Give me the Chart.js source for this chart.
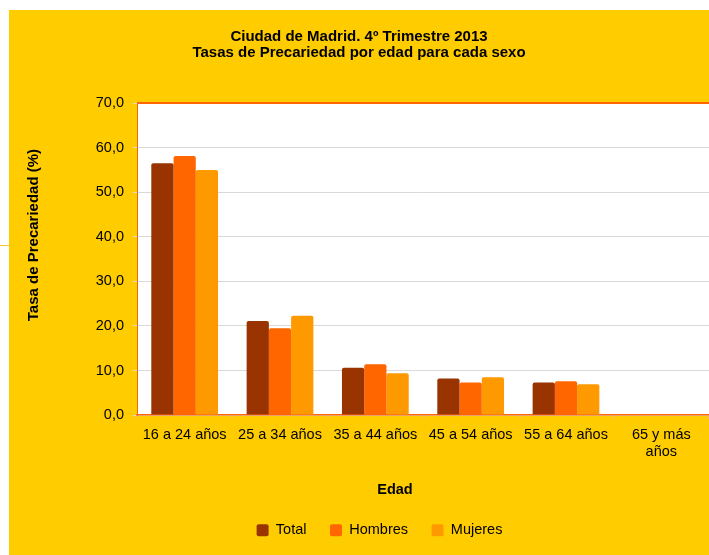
<!DOCTYPE html>
<html>
<head>
<meta charset="utf-8">
<script src="https://cdn.jsdelivr.net/npm/chart.js@4.4.1/dist/chart.umd.min.js"></script>
<style>
    html, body { margin: 0; padding: 0; background: #ffffff; }
    body { width: 709px; height: 555px; position: relative; overflow: hidden; }
    #wrap { position: absolute; left: 9px; top: 10px; width: 700px; height: 545px; background: #ffcc00; }
    #marca { position: absolute; left: 0; top: 245px; width: 9px; height: 1px; background: #f2c440; }
</style>
</head>
<body>
<div id="marca"></div>
<div id="wrap"><canvas id="grafico" width="700" height="545"></canvas></div>
<script>
// Datos
const edades = ['16 a 24 años', '25 a 34 años', '35 a 44 años', '45 a 54 años', '55 a 64 años', ['65 y más', 'años']];
const total = [56.5, 21.1, 10.6, 8.2, 7.3, 0];
const hombres = [58.1, 19.5, 11.4, 7.3, 7.6, 0];
const mujeres = [55.0, 22.3, 9.4, 8.5, 6.9, 0];
const ticksY = [0, 10, 20, 30, 40, 50, 60, 70];

const fuente = "'Liberation Sans', Arial, sans-serif";
const tituloY = 'Tasa de Precariedad (%)';

// Fondo blanco del área de trazado, borde superior y título del eje Y
const areaBlanca = {
    id: 'areaBlanca',
    beforeDraw(chart) {
        const a = chart.chartArea;
        const ctx = chart.ctx;
        ctx.save();
        ctx.fillStyle = '#ffffff';
        ctx.fillRect(a.left, a.top, a.right - a.left, a.bottom - a.top);
        ctx.restore();
    },
    afterDraw(chart) {
        const a = chart.chartArea;
        const ctx = chart.ctx;
        ctx.save();
        ctx.strokeStyle = '#ff6600';
        ctx.lineWidth = 2;
        ctx.beginPath();
        ctx.moveTo(a.left, a.top);
        ctx.lineTo(a.right, a.top);
        ctx.stroke();
        // título del eje Y, algo por encima del centro como en el original
        ctx.translate(25, (a.top + a.bottom) / 2 - 24);
        ctx.rotate(-Math.PI / 2);
        ctx.fillStyle = '#000000';
        ctx.font = 'bold 15px ' + fuente;
        ctx.textAlign = 'center';
        ctx.textBaseline = 'middle';
        ctx.fillText(tituloY, 0, 0);
        ctx.restore();
    }
};

// Desplaza la leyenda y el título del eje X como en el original
const desplazar = {
    id: 'desplazar',
    afterLayout(chart) {
        chart.boxes.forEach(b => {
            let dx = 0;
            if (b === chart.legend) dx = 20.5;
            else if (b.options && b.options.text === 'Edad') dx = 36;
            if (dx) { b.left += dx; b.right += dx; }
        });
    }
};

const ctx = document.getElementById('grafico').getContext('2d');
new Chart(ctx, {
    type: 'bar',
    data: {
        labels: edades,
        datasets: [
            { label: 'Total', data: total, backgroundColor: '#993300' },
            { label: 'Hombres', data: hombres, backgroundColor: '#ff6600' },
            { label: 'Mujeres', data: mujeres, backgroundColor: '#ff9900' }
        ]
    },
    options: {
        responsive: false,
        animation: false,
        layout: { padding: { left: 0, right: 0, top: 0, bottom: 7.5 } },
        datasets: {
            bar: {
                categoryPercentage: 0.7,
                barPercentage: 1.0,
                borderRadius: { topLeft: 2, topRight: 2 },
                borderSkipped: 'start'
            }
        },
        scales: {
            x: {
                afterFit(scale) { scale.height = 55; },
                grid: { offset: true, drawOnChartArea: false, tickLength: 4, color: '#ffb366' },
                border: { color: '#ff6600', width: 1.5 },
                ticks: {
                    color: '#000000',
                    padding: 7,
                    maxRotation: 0,
                    autoSkip: false,
                    font: { family: fuente, size: 14.5 }
                }
            },
            y: {
                min: 0,
                max: 70,
                afterFit(scale) { scale.width = 128; },
                afterBuildTicks(scale) { scale.ticks = ticksY.map(v => ({ value: v })); },
                grid: { color: '#d9d9d9', tickLength: 4 },
                border: { color: '#ff6600', width: 1 },
                ticks: {
                    color: '#000000',
                    padding: 9,
                    font: { family: fuente, size: 14.5 },
                    callback: v => v.toFixed(1).replace('.', ',')
                }
            }
        },
        plugins: {
            title: {
                display: true,
                text: ['Ciudad de Madrid. 4º Trimestre 2013', 'Tasas de Precariedad por edad para cada sexo'],
                color: '#000000',
                font: { family: fuente, size: 15, weight: 'bold', lineHeight: 1.05 },
                padding: { top: 19, bottom: 42.5 }
            },
            subtitle: {
                display: true,
                position: 'bottom',
                weight: 500,
                text: 'Edad',
                color: '#000000',
                font: { family: fuente, size: 14.5, weight: 'bold' },
                padding: { top: 11, bottom: 1 }
            },
            legend: {
                position: 'bottom',
                weight: 1000,
                labels: {
                    color: '#000000',
                    boxWidth: 12,
                    boxHeight: 12,
                    useBorderRadius: true,
                    borderRadius: 2,
                    padding: 23.5,
                    font: { family: fuente, size: 14.5 }
                }
            },
            tooltip: { enabled: false }
        }
    },
    plugins: [areaBlanca, desplazar]
});
</script>
</body>
</html>
